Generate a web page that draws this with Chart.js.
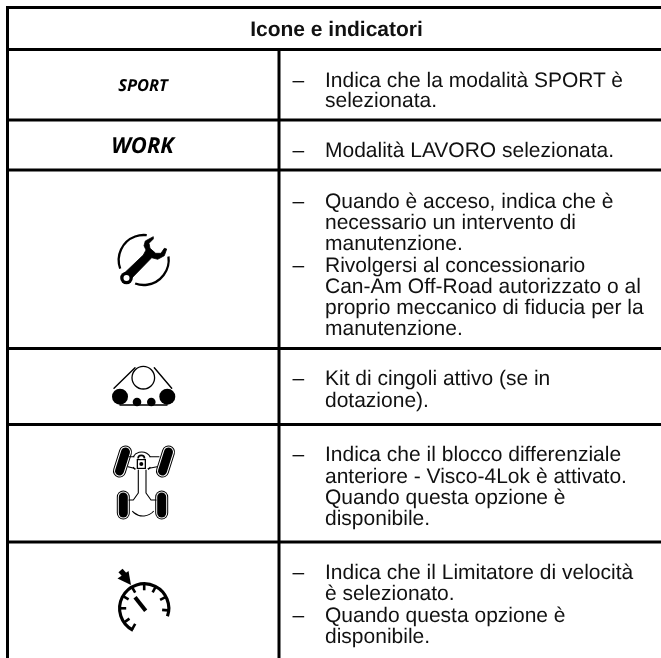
<!DOCTYPE html>
<html><head><meta charset="utf-8">
<style>html,body{margin:0;padding:0;background:#fff}canvas{display:block}</style>
<script src="https://cdn.jsdelivr.net/npm/chart.js@4"></script>
</head><body><canvas id="c" width="661" height="658"></canvas>
<script>
const title = "Icone e indicatori";
const iconLabels = ["SPORT", "WORK"];
const descriptions = [
 "Indica che la modalità SPORT è","selezionata.",
 "Modalità LAVORO selezionata.",
 "Quando è acceso, indica che è","necessario un intervento di","manutenzione.",
 "Rivolgersi al concessionario","Can-Am Off-Road autorizzato o al","proprio meccanico di fiducia per la","manutenzione.",
 "Kit di cingoli attivo (se in","dotazione).",
 "Indica che il blocco differenziale","anteriore - Visco-4Lok è attivato.","Quando questa opzione è","disponibile.",
 "Indica che il Limitatore di velocità","è selezionato.","Quando questa opzione è","disponibile."
];
const descBaselines = [87,107,157,208,229,250,272,293,314,335,385,406.5,461,482.5,504,525,579,600,622,643];
const dashLines = [0,2,3,6,10,12,16,18];
const hRules = [7.5,49.5,120,170,348.5,424.5,542];
const vRules = [7.5,279];
const wrenchOutline = [[122.3,275],[143.3,255],[146,250],[144,245.7],[145.3,241],[153.3,236.7],[153.3,239],[149,243.3],[150,248.3],[155.7,253.3],[161,253.3],[164.3,248.3],[166.7,249],[164.3,255.7],[157.7,259.3],[151.7,257.7],[130,280]];
const trackLines = [[[114,388.3],[135,367.7]],[[154.3,367.7],[171.7,388.3]],[[120,405],[167,405]]];
const trackDiscs = [[120,396.7,8],[167.3,396.7,8],[137,402,4.3],[151.3,402,4.3]];
const axleWheels = [[[125.5,452],[119.5,471]],[[168.5,452],[162.5,471]],[[123.3,497],[123.3,513]],[[161.7,497],[161.7,513]]];
const axleLines = [[[129,456.7],[134,456.7]],[[150,456.7],[159,456.7]],[[128,466.7],[135,468.5]],[[148,468.5],[157,466.7]],
 [[138.3,470],[138.3,493],[133.3,500],[129,500]],[[146,470],[146,493],[151,500],[156,500]]];
const speedTicks = [-150,-120,-90,-62,-28,5,180,145,120];

const W = 661, H = 658;
const ruleSets = hRules.map(y=>[{x:6,y},{x:W,y}]).concat(vRules.map((x,i)=>[{x,y:i?49.5:6},{x,y:H}]));
const rad = d=>d*Math.PI/180;

const paint = {
 id:'paint',
 afterDatasetsDraw(ch){
  const c=ch.ctx, X=v=>ch.scales.x.getPixelForValue(v), Y=v=>ch.scales.y.getPixelForValue(v);
  const poly=(pts,w,col='#000')=>{c.beginPath();pts.forEach((p,i)=>i?c.lineTo(X(p[0]),Y(p[1])):c.moveTo(X(p[0]),Y(p[1])));c.lineWidth=w;c.strokeStyle=col;c.lineCap='round';c.lineJoin='round';c.stroke();};
  const arc=(x,y,r,a,b,w)=>{c.beginPath();c.arc(X(x),Y(y),r,rad(a),rad(b));c.lineWidth=w;c.strokeStyle='#000';c.lineCap='butt';c.stroke();};
  const disc=(x,y,r,col='#000')=>{c.beginPath();c.arc(X(x),Y(y),r,0,7);c.fillStyle=col;c.fill();};
  const fillPoly=(pts,col='#000')=>{c.beginPath();pts.forEach((p,i)=>i?c.lineTo(X(p[0]),Y(p[1])):c.moveTo(X(p[0]),Y(p[1])));c.closePath();c.fillStyle=col;c.fill();};
  c.save();
  c.textRendering='geometricPrecision';
  // text
  c.textBaseline='alphabetic';c.fillStyle='#111';c.textAlign='left';
  c.font='21px "Liberation Sans"';
  descriptions.forEach((t,i)=>{c.fillText(t,X(325),Y(descBaselines[i]));});
  dashLines.forEach(i=>c.fillText("–",X(292.5),Y(descBaselines[i])));
  c.textAlign='center';
  c.font='700 21px "Liberation Sans"';
  c.fillText(title,X(336.5),Y(36));
  c.fillStyle='#000';
  c.font='italic 700 16.5px "Open Sans"';c.fillText(iconLabels[0],X(143),Y(90.7));
  c.font='italic 700 22px "Open Sans"';c.fillText(iconLabels[1],X(142.5),Y(153));
  // wrench
  arc(143.7,260,25,160,277,2.3);arc(143.7,260,25,-8,110,2.3);
  poly(wrenchOutline.concat([wrenchOutline[0]]),.8);
  fillPoly(wrenchOutline);disc(126.5,278,6.3);disc(126.5,278,3,'#fff');
  // tracks
  arc(143.3,377.7,11.3,0,360,1.3);
  trackLines.forEach(l=>poly(l,1.4));
  trackDiscs.forEach(d=>disc(d[0],d[1],d[2]));
  // 4x4
  axleWheels.forEach(l=>{poly(l,13);poly(l,11,'#fff');poly(l,9);});
  axleLines.forEach(l=>poly(l,1.1));
  arc(141.7,462,10,-150,-30,1.1);arc(141.7,462,10,30,50,1.1);arc(141.7,462,10,130,150,1.1);
  arc(143,502,14,40,140,1.1);
  arc(141.3,458.5,3.2,180,360,1.7);
  fillPoly([[136.7,459],[146,459],[146,469],[136.7,469]]);
  fillPoly([[138,460.2],[144.7,460.2],[144.7,467.8],[138,467.8]],'#fff');
  disc(141.3,464,2);
  // speedometer
  arc(144.2,608.3,24.6,117,379,3.2);
  speedTicks.forEach(a=>{const x=144.2,y=608.3,cs=Math.cos(rad(a)),sn=Math.sin(rad(a));
    c.beginPath();c.moveTo(X(x+24*cs),Y(y+24*sn));c.lineTo(X(x+18*cs),Y(y+18*sn));c.lineWidth=2.6;c.strokeStyle='#000';c.lineCap='butt';c.stroke();});
  c.beginPath();c.moveTo(X(135),Y(597.3));c.lineTo(X(145.7),Y(610.7));c.lineWidth=4;c.stroke();
  fillPoly([[117.5,578.5],[131,585],[128.5,571]]);
  c.beginPath();c.moveTo(X(120.5),Y(570.5));c.lineTo(X(125.5),Y(576));c.lineWidth=5.5;c.stroke();
  c.restore();
 }
};

new Chart(document.getElementById('c'),{
 type:'scatter',
 data:{datasets:ruleSets.map(d=>({data:d,showLine:true,borderColor:'#000',borderWidth:3,pointRadius:0,clip:false}))},
 options:{
  responsive:false,animation:false,
  layout:{padding:0},
  plugins:{legend:{display:false},tooltip:{enabled:false}},
  scales:{x:{type:'linear',min:0,max:W,display:false},y:{type:'linear',min:0,max:H,reverse:true,display:false}}
 },
 plugins:[paint]
});
</script></body></html>
